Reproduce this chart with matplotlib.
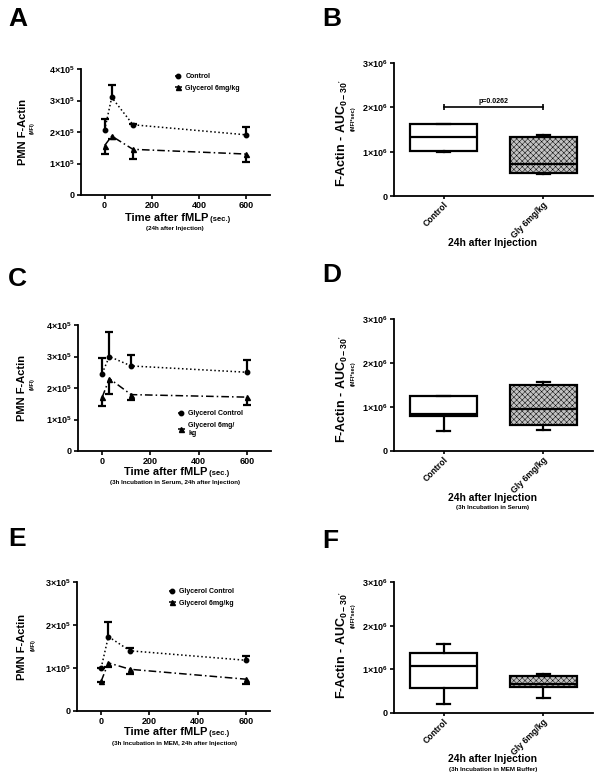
import matplotlib
matplotlib.use('Agg')
import matplotlib.pyplot as plt
import numpy as np

W, H = 602, 783

plt.rcParams['font.family'] = ['Liberation Sans', 'DejaVu Sans']
plt.rcParams['font.weight'] = 'bold'
plt.rcParams['mathtext.fontset'] = 'custom'
plt.rcParams['mathtext.rm'] = 'Liberation Sans:bold'
plt.rcParams['mathtext.it'] = 'Liberation Sans:bold'
plt.rcParams['mathtext.bf'] = 'Liberation Sans:bold'
plt.rcParams['hatch.linewidth'] = 0.35

# time course data (MFI), error bars one-sided
time_sec = [0, 30, 120, 600]
x_ticks = [0, 200, 400, 600]

a_ctrl = [2.06e5, 3.10e5, 2.23e5, 1.91e5]
a_ctrl_err = [0.36e5, 0.38e5, 0.02e5, 0.25e5]
a_gly = [1.57e5, 1.87e5, 1.45e5, 1.30e5]
a_gly_err = [0.27e5, 0.08e5, 0.31e5, 0.24e5]

c_ctrl = [2.46e5, 3.00e5, 2.70e5, 2.50e5]
c_ctrl_err = [0.49e5, 0.78e5, 0.36e5, 0.40e5]
c_gly = [1.70e5, 2.30e5, 1.79e5, 1.71e5]
c_gly_err = [0.27e5, 0.50e5, 0.18e5, 0.24e5]

e_ctrl = [1.00e5, 1.73e5, 1.40e5, 1.18e5]
e_ctrl_err = [0.01e5, 0.33e5, 0.07e5, 0.11e5]
e_gly = [0.69e5, 1.12e5, 0.97e5, 0.74e5]
e_gly_err = [0.02e5, 0.09e5, 0.10e5, 0.12e5]

y_ticks_4 = [0, 1e5, 2e5, 3e5, 4e5]
y_labels_4 = ['0', '1×10$^{5}$', '2×10$^{5}$', '3×10$^{5}$', '4×10$^{5}$']
y_ticks_3 = [0, 1e5, 2e5, 3e5]
y_labels_3 = ['0', '1×10$^{5}$', '2×10$^{5}$', '3×10$^{5}$']

# AUC box data: whislo, q1, median, q3, whishi
box_groups = ['Control', 'Gly 6mg/kg']
b_ctrl = [0.99e6, 1.01e6, 1.34e6, 1.62e6, 1.62e6]
b_gly = [0.49e6, 0.53e6, 0.73e6, 1.32e6, 1.38e6]
d_ctrl = [0.45e6, 0.79e6, 0.84e6, 1.25e6, 1.25e6]
d_gly = [0.47e6, 0.58e6, 0.96e6, 1.50e6, 1.57e6]
f_ctrl = [0.21e6, 0.58e6, 1.08e6, 1.38e6, 1.59e6]
f_gly = [0.35e6, 0.60e6, 0.67e6, 0.84e6, 0.90e6]
box_yticks = [0, 1e6, 2e6, 3e6]
box_ylabels = ['0', '1×10$^{6}$', '2×10$^{6}$', '3×10$^{6}$']
p_text = 'p=0.0262'
p_level = 2.0e6

fig = plt.figure(figsize=(W / 100, H / 100), dpi=100)


def add_ax(l, t, r, b):
    return fig.add_axes([l / W, 1 - b / H, (r - l) / W, (b - t) / H])


def ftext(x, y, s, **kw):
    return fig.text(x / W, 1 - y / H, s, **kw)


def style(ax):
    for s in ['top', 'right']:
        ax.spines[s].set_visible(False)
    for s in ['left', 'bottom']:
        ax.spines[s].set_linewidth(1.3)
    ax.tick_params(width=1.2, length=3, labelsize=6.5, pad=1.5)


def line_panel(ax, ctrl, ctrl_err, gly, gly_err, names, yticks, ylabels, leg_xy):
    ctrl = np.array(ctrl)
    gly = np.array(gly)
    zeros = np.zeros(len(time_sec))
    l1, = ax.plot(time_sec, ctrl, ls=':', color='k', lw=1.1, marker='o', ms=3.2, label=names[0])
    l2, = ax.plot(time_sec, gly, ls=(0, (5, 2, 1, 2)), color='k', lw=1.1, marker='^', ms=3.6, label=names[1])
    ax.errorbar(time_sec, ctrl, yerr=[zeros, ctrl_err], fmt='none', ecolor='k', elinewidth=1.6)
    ax.plot(time_sec, ctrl + np.array(ctrl_err), ls='none', marker='_', ms=6, mew=1.6, color='k')
    ax.errorbar(time_sec, gly, yerr=[gly_err, zeros], fmt='none', ecolor='k', elinewidth=1.6)
    ax.plot(time_sec, gly - np.array(gly_err), ls='none', marker='_', ms=6, mew=1.6, color='k')
    ax.set_xlim(-100, 700)
    ax.set_ylim(0, yticks[-1])
    ax.set_xticks(x_ticks)
    ax.set_yticks(yticks)
    ax.set_yticklabels(ylabels)
    style(ax)
    ax.legend(handles=[l1, l2], loc='upper left', frameon=False,
              bbox_to_anchor=(leg_xy[0] / W, 1 - leg_xy[1] / H), bbox_transform=fig.transFigure,
              borderaxespad=0, borderpad=0, handlelength=1.0, handletextpad=0.5,
              labelspacing=0.7, prop={'size': 5, 'weight': 'bold'})


def box_panel(ax, ctrl, gly):
    stats = []
    for name, v in zip(box_groups, [ctrl, gly]):
        stats.append({'label': name, 'whislo': v[0], 'q1': v[1], 'med': v[2], 'q3': v[3], 'whishi': v[4]})
    bp = ax.bxp(stats, positions=[0, 1], widths=0.67, capwidths=0.13, patch_artist=True,
                showfliers=False,
                boxprops={'linewidth': 1.6, 'edgecolor': 'k'},
                medianprops={'linewidth': 1.6, 'color': 'k'},
                whiskerprops={'linewidth': 1.6, 'color': 'k'},
                capprops={'linewidth': 1.6, 'color': 'k'})
    bp['boxes'][0].set_facecolor('white')
    bp['boxes'][1].set_facecolor('#c2c2c2')
    bp['boxes'][1].set_hatch('xxxxxx')
    ax.set_xlim(-0.5, 1.5)
    ax.set_ylim(0, box_yticks[-1])
    ax.set_yticks(box_yticks)
    ax.set_yticklabels(box_ylabels)
    style(ax)
    ax.tick_params(axis='x', length=2, pad=1)
    ax.set_xticklabels(box_groups, rotation=45, ha='right', va='top', rotation_mode='anchor', fontsize=6.2)


def time_xlabel(x, y, sub_y, sub):
    t = ftext(x, y, 'Time after fMLP', fontsize=8, ha='left', va='center')
    fig.add_artist(plt.Annotation(' (sec.)', xy=(1, 0), xycoords=t, va='bottom', ha='left', fontsize=5.5))
    ftext(175, sub_y, sub, fontsize=4.5, ha='center', va='center')


# panel A
axA = add_ax(81, 69, 270, 195)
line_panel(axA, a_ctrl, a_ctrl_err, a_gly, a_gly_err, ['Control', 'Glycerol 6mg/kg'],
           y_ticks_4, y_labels_4, (175, 73))
time_xlabel(125, 218, 228.5, '(24h after Injection)')
ftext(23, 132, 'PMN F-Actin', fontsize=8, rotation=90, ha='center', va='center')
ftext(32, 128, '(MFI)', fontsize=3.5, rotation=90, ha='center', va='center')

# panel C
axC = add_ax(78, 325, 271, 451)
line_panel(axC, c_ctrl, c_ctrl_err, c_gly, c_gly_err, ['Glycerol Control', 'Glycerol 6mg/\nkg'],
           y_ticks_4, y_labels_4, (178, 410))
time_xlabel(124, 472, 482, '(3h Incubation in Serum, 24h after Injection)')
ftext(22, 388, 'PMN F-Actin', fontsize=8, rotation=90, ha='center', va='center')
ftext(32, 384, '(MFI)', fontsize=3.5, rotation=90, ha='center', va='center')

# panel E
axE = add_ax(77, 582, 270, 711)
line_panel(axE, e_ctrl, e_ctrl_err, e_gly, e_gly_err, ['Glycerol Control', 'Glycerol 6mg/kg'],
           y_ticks_3, y_labels_3, (169, 588))
time_xlabel(124, 732, 743, '(3h Incubation in MEM, 24h after Injection)')
ftext(22, 647, 'PMN F-Actin', fontsize=8, rotation=90, ha='center', va='center')
ftext(33, 645, '(MFI)', fontsize=3.5, rotation=90, ha='center', va='center')

# box panels
auc_label = r"F-Actin - AUC$_{0-30'}$"
axB = add_ax(394, 63, 593, 196)
box_panel(axB, b_ctrl, b_gly)
axB.plot([0, 1], [p_level, p_level], color='k', lw=1.2, marker='|', ms=5, mew=1.2)
axB.text(0.5, p_level + 0.05e6, p_text, ha='center', va='bottom', fontsize=5)
ftext(493, 243, '24h after Injection', fontsize=7.5, ha='center', va='center')
ftext(342, 133, auc_label, fontsize=9, rotation=90, ha='center', va='center')
ftext(353, 119, '(MFI*sec)', fontsize=4, rotation=90, ha='center', va='center')

axD = add_ax(394, 319, 593, 451)
box_panel(axD, d_ctrl, d_gly)
ftext(493, 498, '24h after Injection', fontsize=7.5, ha='center', va='center')
ftext(493, 508, '(3h Incubation in Serum)', fontsize=4.5, ha='center', va='center')
ftext(342, 389, auc_label, fontsize=9, rotation=90, ha='center', va='center')
ftext(353, 374, '(MFI*sec)', fontsize=4, rotation=90, ha='center', va='center')

axF = add_ax(394, 582, 593, 713)
box_panel(axF, f_ctrl, f_gly)
ftext(493, 759, '24h after Injection', fontsize=7.5, ha='center', va='center')
ftext(493, 769, '(3h Incubation in MEM Buffer)', fontsize=4.5, ha='center', va='center')
ftext(342, 645, auc_label, fontsize=9, rotation=90, ha='center', va='center')
ftext(353, 616, '(MFI*sec)', fontsize=4, rotation=90, ha='center', va='center')

# panel letters
for letter, x, y in [('A', 8, 19), ('B', 322, 19), ('C', 8, 279), ('D', 322, 275),
                     ('E', 8, 539), ('F', 322, 541)]:
    ftext(x, y, letter, fontsize=19, ha='left', va='center')

fig.savefig('out.png', dpi=100)
